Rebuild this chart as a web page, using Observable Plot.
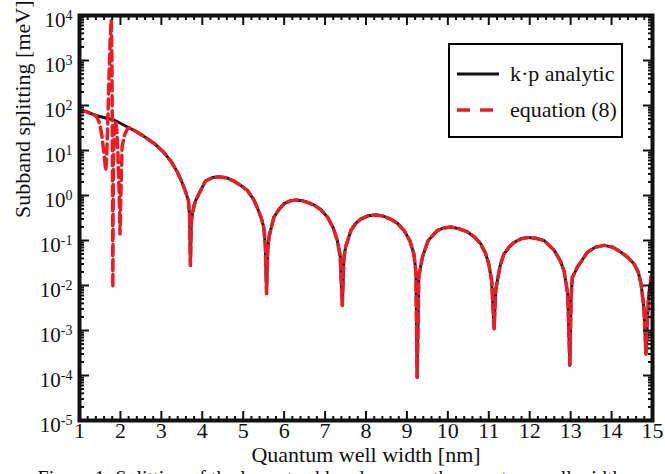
<!DOCTYPE html>
<html>
<head>
<meta charset="utf-8">
<script src="https://cdn.jsdelivr.net/npm/d3@7"></script>
<script src="https://cdn.jsdelivr.net/npm/@observablehq/plot@0.6"></script>
<style>
  html, body { margin: 0; padding: 0; background: #fff; overflow: hidden; }
  #wrap { position: relative; width: 665px; height: 474px; font-family: "Liberation Serif", serif; }
  #legend { position: absolute; left: 448px; top: 43px; width: 171px; height: 91px; border: 2px solid #000; background: #fff; box-sizing: content-box; }
  .row { position: absolute; left: 0; height: 30px; display: flex; align-items: center; font-family: "Liberation Serif", serif; font-size: 22px; color: #111; }
  .row svg { margin-left: 6px; margin-right: 10px; }
  #caption { position: absolute; left: 0; top: 467px; width: 665px; text-align: center; font-family: "Liberation Serif", serif; font-size: 20px; white-space: nowrap; color: #111; }
</style>
</head>
<body>
<div id="wrap">
  <div id="chart"></div>
  <div id="legend">
    <div class="row" style="top:14px"><svg width="44" height="6"><line x1="1" y1="3" x2="43" y2="3" stroke="#111" stroke-width="3"/></svg>k·p analytic</div>
    <div class="row" style="top:50px"><svg width="44" height="6"><line x1="1" y1="3" x2="43" y2="3" stroke="#ec1c24" stroke-width="3.5" stroke-dasharray="13,10"/></svg>equation (8)</div>
  </div>
  <div id="caption">Figure 1: Splitting of the lowest subbands versus the quantum well width.</div>
</div>
<script>
// Quantum well width [nm] and subband splitting [meV] — k·p analytic
const kpX = [1.00,1.15,1.40,1.86,2.10,2.35,2.60,2.84,3.05,3.25,3.40,3.49,3.58,3.66,3.69,3.71,3.73,3.76,3.80,3.84,3.96,4.08,4.25,4.41,4.60,4.77,4.95,5.10,5.25,5.34,5.44,5.50,5.54,5.57,5.60,5.63,5.75,5.88,6.00,6.15,6.30,6.45,6.60,6.75,6.90,7.06,7.20,7.30,7.37,7.42,7.46,7.50,7.63,7.75,7.87,8.05,8.24,8.42,8.60,8.77,8.93,9.07,9.17,9.22,9.25,9.29,9.38,9.52,9.74,9.90,10.07,10.28,10.48,10.65,10.80,10.92,11.00,11.07,11.13,11.17,11.21,11.28,11.37,11.50,11.62,11.80,11.95,12.15,12.35,12.60,12.75,12.84,12.93,12.98,13.01,13.04,13.17,13.41,13.60,13.82,14.03,14.23,14.40,14.55,14.65,14.72,14.79,14.84,14.90,14.96,15.00];
const kpY = [79,74,60,47,36,27.5,20,14,9.3,5.5,3.2,2.1,1.3,0.78,0.35,0.028,0.25,0.4,0.6,0.78,1.3,2.1,2.5,2.6,2.45,2.1,1.65,1.3,0.83,0.55,0.32,0.2,0.08,0.0066,0.063,0.12,0.33,0.5,0.66,0.76,0.79,0.76,0.69,0.6,0.48,0.33,0.19,0.1,0.045,0.0036,0.04,0.071,0.166,0.24,0.30,0.355,0.37,0.35,0.30,0.24,0.166,0.1,0.05,0.02,0.00009,0.016,0.043,0.1,0.166,0.19,0.2,0.182,0.155,0.12,0.085,0.052,0.03,0.0126,0.0011,0.008,0.0129,0.028,0.05,0.072,0.091,0.11,0.117,0.112,0.1,0.06,0.035,0.021,0.0063,0.00017,0.005,0.015,0.026,0.055,0.071,0.078,0.071,0.055,0.042,0.03,0.02,0.011,0.0032,0.0003,0.005,0.015,0.02];

// equation (8): differs from k·p only at small widths
const eqLowX = [1.00,1.15,1.38,1.44,1.50,1.55,1.59,1.62,1.64,1.66,1.69,1.72,1.75,1.775,1.79,1.80,1.81,1.815,1.82,1.83,1.85,1.88,1.91,1.94,1.97,1.99,2.01,2.04,2.10,2.17,2.22];
const eqLowY = [79,74,61,52,38,20,10,5.5,3.6,6,40,400,3000,8000,1500,60,0.5,0.009,0.3,5,30,45,30,8,1,0.14,1,12,22,30,32];

const xMajor = [1,2,3,4,5,6,7,8,9,10,11,12,13,14,15];
const yExponents = [-5,-4,-3,-2,-1,0,1,2,3,4];

const kpData = kpX.map((x, i) => ({x, y: kpY[i]}));
const eqData = eqLowX.map((x, i) => ({x, y: eqLowY[i]}))
  .concat(kpData.filter(d => d.x > 2.25));

const yMajor = yExponents.map(e => Math.pow(10, e));
const yMinor = [];
for (let e = -5; e < 4; e++) for (let m = 2; m <= 9; m++) yMinor.push(m * Math.pow(10, e));
const xMinor = [];
for (let i = 1; i < 15; i++) for (let k = 1; k <= 4; k++) xMinor.push(+(i + k * 0.2).toFixed(2));

const tickStyle = {tickFormat: () => "", label: null, strokeWidth: 2, stroke: "#111"};

const chart = Plot.plot({
  width: 665,
  height: 474,
  marginLeft: 79,
  marginRight: 13,
  marginTop: 15,
  marginBottom: 54,
  x: {domain: [1, 15]},
  y: {type: "log", domain: [1e-5, 1e4]},
  style: {fontFamily: "'Liberation Serif', serif", background: "transparent", color: "#111"},
  marks: [
    Plot.line(kpData, {x: "x", y: "y", stroke: "#1a1a1a", strokeWidth: 3, clip: true}),
    Plot.line(eqData, {x: "x", y: "y", stroke: "#ec1c24", strokeWidth: 3.5, strokeDasharray: "10,5", clip: true}),
    Plot.axisX(xMinor, {anchor: "bottom", tickSize: -4, ...tickStyle}),
    Plot.axisX(xMinor, {anchor: "top", tickSize: -4, ...tickStyle}),
    Plot.axisX(xMajor, {anchor: "bottom", tickSize: -9, ...tickStyle}),
    Plot.axisX(xMajor, {anchor: "top", tickSize: -9, ...tickStyle}),
    Plot.axisY(yMinor, {anchor: "left", tickSize: -5, ...tickStyle}),
    Plot.axisY(yMinor, {anchor: "right", tickSize: -5, ...tickStyle}),
    Plot.axisY(yMajor, {anchor: "left", tickSize: -10, ...tickStyle}),
    Plot.axisY(yMajor, {anchor: "right", tickSize: -10, ...tickStyle}),
    Plot.axisX(xMajor, {anchor: "bottom", tickSize: 0, tickPadding: 2, fontSize: 22, label: null, tickFormat: d => String(d)}),
    Plot.axisY(yMajor, {anchor: "left", tickSize: 0, tickPadding: 7, fontSize: 21, dy: 5, label: null, tickFormat: d => String(Math.round(Math.log10(d)))}),
    Plot.text(["Quantum well width [nm]"], {frameAnchor: "bottom", dy: 41, fontSize: 22, fill: "#111"}),
    Plot.text(["Subband splitting [meV]"], {frameAnchor: "left", dx: -57, rotate: -90, fontSize: 22, fill: "#111"}),
    Plot.frame({stroke: "#111", strokeWidth: 4})
  ]
});

// drop the empty labels of the tick-only axes
d3.select(chart).selectAll('g[aria-label$="tick label"] text').each(function () {
  if (this.textContent === "") this.remove();
});
// superscript exponents on the log axis labels
d3.select(chart).selectAll('g[aria-label="y-axis tick label"] text').each(function () {
  const exp = this.textContent;
  const t = d3.select(this);
  t.text(null);
  t.append("tspan").text("10");
  t.append("tspan").attr("dy", "-0.55em").attr("font-size", "14px").text(exp);
});

document.getElementById("chart").appendChild(chart);
</script>
</body>
</html>
